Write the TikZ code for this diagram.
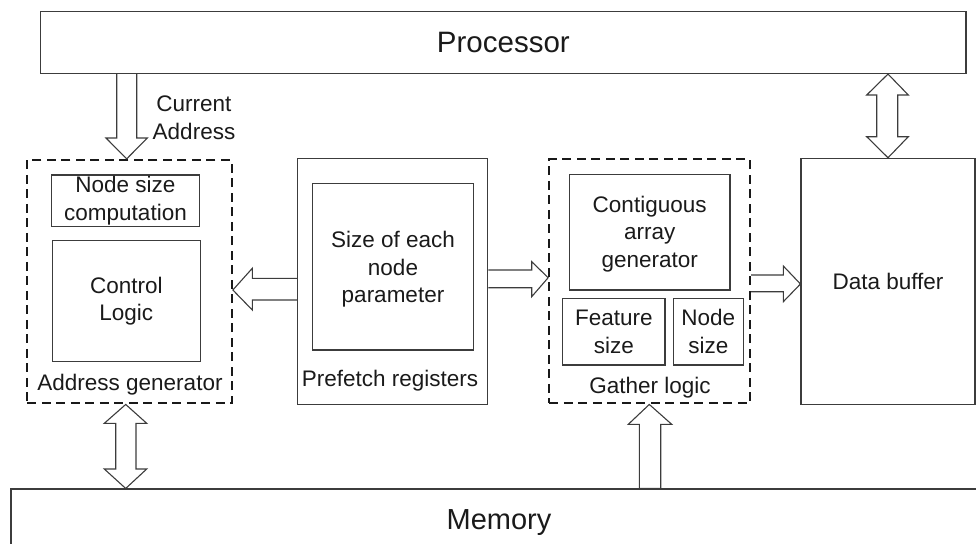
\documentclass[tikz,border=0pt]{standalone}
\usepackage{fontspec}
\setmainfont{Liberation Sans}
\definecolor{boxgray}{HTML}{3C3C3C}
\definecolor{txtcol}{HTML}{1A1A1A}
\begin{document}
\begin{tikzpicture}[x=1pt,y=-1pt,
  box/.style={draw=boxgray, line width=1.1pt, rectangle, inner sep=0pt, align=center,
     font=\fontsize{22.5}{27.5}\selectfont, text=txtcol},
  dbox/.style={draw=black!90, line width=2.3pt, dash pattern=on 9pt off 5.5pt, rectangle, inner sep=0pt},
  fat/.style={draw=boxgray, line width=1.1pt, line join=miter},
  txt/.style={font=\fontsize{22.5}{27.5}\selectfont, text=txtcol, inner sep=0pt, align=center},
  big/.style={font=\fontsize{29.5}{34}\selectfont, text=txtcol, inner sep=0pt}
]
\useasboundingbox (0,0) rectangle (976,543);

% main blocks
\node[box, minimum width=925.3pt, minimum height=61.8pt] (proc) at (503.35,42.6) {};
\node[big] (proctxt) at (proc.center) {Processor};
\node[box, minimum width=979pt, minimum height=71pt] (mem) at (500.5,524.5) {};
\node[big, anchor=base, font=\fontsize{29}{34}\selectfont] (memtxt) at (499,529.3) {Memory};

% address generator
\node[dbox, minimum width=204.4pt, minimum height=243.3pt] (addr) at (129.5,281.65) {};
\node[box, minimum width=147.6pt, minimum height=51.7pt] (nsc) at (125.5,200.85) {Node size\\computation};
\node[box, minimum width=148pt, minimum height=121pt] (ctrl) at (126.3,301.2) {Control\\Logic};
\node[txt, anchor=base] (addrlbl) at (130,390.7) {Address generator};

% prefetch registers
\node[box, minimum width=190.4pt, minimum height=246pt] (pref) at (392.5,281.3) {};
\node[box, minimum width=160.6pt, minimum height=166.7pt] (size) at (393,266.65) {};
\node[txt] (sizetxt) at (393,269.5) {Size of each\\node\\parameter};
\node[txt, anchor=base] (preflbl) at (390,386.7) {Prefetch registers};

% gather logic
\node[dbox, minimum width=200.7pt, minimum height=244pt] (gath) at (649.65,281.3) {};
\node[box, minimum width=160.7pt, minimum height=115.7pt] (cag) at (649.65,232.15) {};
\node[txt] (cagtxt) at (649.65,234) {Contiguous\\array\\generator};
\node[box, minimum width=102.3pt, minimum height=66.7pt] (feat) at (613.85,331.65) {Feature\\size};
\node[box, minimum width=70pt, minimum height=66.7pt] (nsz) at (708.3,331.65) {Node\\size};
\node[txt, anchor=base] (gathlbl) at (650,393.3) {Gather logic};

% data buffer
\node[box, minimum width=174pt, minimum height=246pt] (dbuf) at (888,281.3) {Data buffer};

% label
\node[txt] (curaddr) at (194,118) {Current\\Address};

% arrows
% processor -> address generator
\draw[fat] (116.7,0 |- proc.south) -- (116.7,138) -- (106,138) -- (126.7,0 |- addr.north)
  -- (147.3,138) -- (136.7,138) -- (136.7,0 |- proc.south);
% prefetch -> address generator
\draw[fat] (pref.west |- 0,278.3) -- (252.3,278.3) -- (252.3,268.3) -- (addr.east |- 0,290)
  -- (252.3,310) -- (252.3,300) -- (pref.west |- 0,300);
% prefetch -> gather
\draw[fat] (pref.east |- 0,270) -- (531.7,270) -- (531.7,261.7) -- (gath.west |- 0,277.7)
  -- (531.7,296.7) -- (531.7,287.7) -- (pref.east |- 0,287.7);
% gather -> data buffer
\draw[fat] (gath.east |- 0,275) -- (783.3,275) -- (783.3,266) -- (dbuf.west |- 0,284)
  -- (783.3,301.7) -- (783.3,291.7) -- (gath.east |- 0,291.7);
% processor <-> data buffer
\draw[fat] (888,0 |- proc.south) -- (908.3,95) -- (897.7,95) -- (897.7,136.7) -- (908.3,136.7)
  -- (888,0 |- dbuf.north) -- (866.7,136.7) -- (876.7,136.7) -- (876.7,95) -- (866.7,95) -- cycle;
% address generator <-> memory
\draw[fat] (125.7,0 |- addr.south) -- (146.7,423.3) -- (136,423.3) -- (136,469) -- (146.7,469)
  -- (125.7,0 |- mem.north) -- (104.3,469) -- (115.7,469) -- (115.7,423.3) -- (104.3,423.3) -- cycle;
% memory -> gather
\draw[fat] (639.3,0 |- mem.north) -- (639.3,424.3) -- (628.3,424.3) -- (649.3,0 |- gath.south)
  -- (671.7,424.3) -- (660.7,424.3) -- (660.7,0 |- mem.north) -- cycle;
\end{tikzpicture}
\end{document}
